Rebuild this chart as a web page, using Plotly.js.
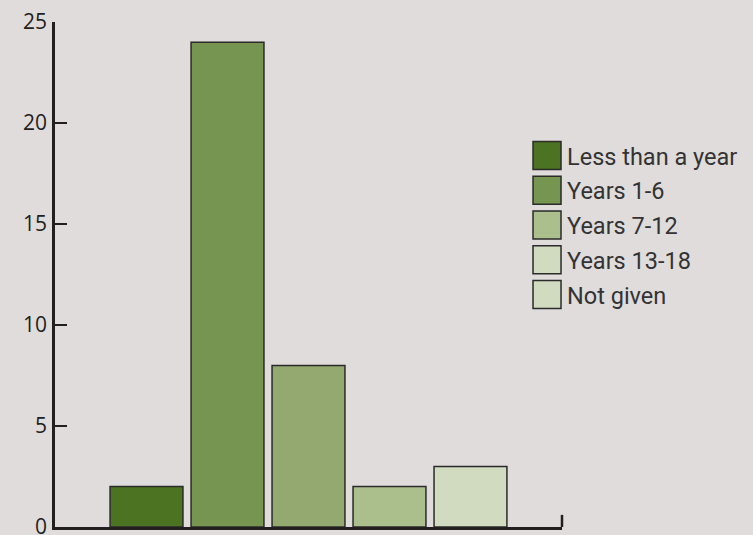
<!DOCTYPE html>
<html>
<head>
<meta charset="utf-8">
<script src="https://cdn.plot.ly/plotly-3.0.1.min.js"></script>
<style>
  html, body { margin: 0; padding: 0; background: #e0dcdb; }
  #chart { width: 753px; height: 535px; }
</style>
</head>
<body>
<div id="chart"></div>
<script>
// Data
const categories = ['Less than a year', 'Years 1-6', 'Years 7-12', 'Years 13-18', 'Not given'];
const values = [2, 24, 8, 2, 3];
const barColors = ['#4b7321', '#769551', '#93a970', '#abbf8d', '#d0dbc0'];
// legend swatch fills as printed in the original key
const legendColors = ['#4b7321', '#769551', '#abbf8d', '#d0dbc0', '#d0dbc0'];
const yTickVals = [0, 5, 10, 15, 20, 25];

const traces = categories.map((c, i) => ({
  type: 'bar',
  x: [c],
  y: [values[i]],
  name: c,
  legendgroup: 'g' + i,
  width: 0.9,
  marker: { color: barColors[i], line: { color: '#2b2b2b', width: 1.5 } },
  hoverinfo: 'x+y'
}));

const layout = {
  width: 753,
  height: 535,
  margin: { l: 55, r: 191, t: 22, b: 8, pad: 0 },
  paper_bgcolor: '#e0dcdb',
  plot_bgcolor: '#e0dcdb',
  barmode: 'overlay',
  showlegend: true,
  legend: {
    x: 0.931, xanchor: 'left',
    y: 0.779, yanchor: 'top',
    bgcolor: 'rgba(0,0,0,0)',
    font: { family: 'Roboto, sans-serif', size: 23.5, color: '#333333' },
    tracegroupgap: 1.2,
    traceorder: 'grouped'
  },
  xaxis: {
    type: 'category',
    categoryorder: 'array',
    categoryarray: categories,
    range: [-1.13, 5.13],
    showticklabels: false,
    ticks: '',
    showline: true,
    linecolor: '#231f20',
    linewidth: 2.5,
    showgrid: false,
    zeroline: false,
    fixedrange: true
  },
  yaxis: {
    range: [0, 25],
    tickmode: 'array',
    tickvals: yTickVals,
    ticks: 'inside',
    ticklen: 12,
    tickwidth: 2,
    tickcolor: '#231f20',
    showline: true,
    linecolor: '#231f20',
    linewidth: 2.5,
    showgrid: false,
    zeroline: false,
    ticklabelstandoff: 3,
    ticklabeloverflow: 'allow',
    tickfont: { family: '"Open Sans", sans-serif', size: 21, color: '#231f20' },
    fixedrange: true
  },
  shapes: [{
    type: 'line', xref: 'paper', yref: 'y',
    x0: 1, x1: 1, y0: 0, y1: 0.6,
    line: { color: '#231f20', width: 2.5 }
  }]
};

function styleLegend() {
  document.querySelectorAll('#chart .legend .traces').forEach((t, i) => {
    t.querySelectorAll('.legendpoints path').forEach(p => {
      p.setAttribute('d', 'M14,14H-14V-14H14Z');
      if (legendColors[i]) p.style.fill = legendColors[i];
    });
  });
  // small nudge so the tick labels sit ~8px left of the axis line
  document.querySelectorAll('#chart .ytick text').forEach(t => {
    t.setAttribute('dx', '2');
  });
}

const gd = document.getElementById('chart');
Plotly.newPlot(gd, traces, layout, { displayModeBar: false }).then(() => {
  styleLegend();
  gd.on('plotly_afterplot', styleLegend);
});
</script>
</body>
</html>
